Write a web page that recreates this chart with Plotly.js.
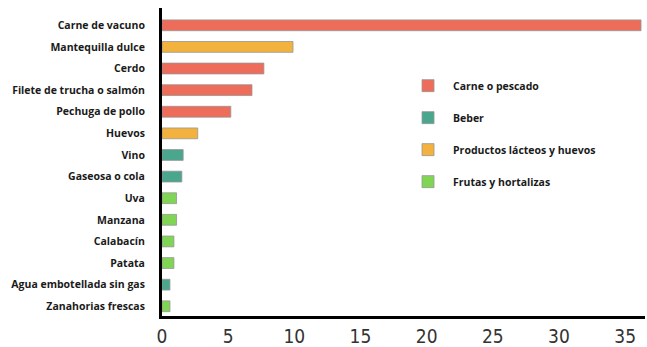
<!DOCTYPE html>
<html>
<head>
<meta charset="utf-8">
<script src="https://cdn.plot.ly/plotly-3.0.1.min.js"></script>
<style>
  html, body { margin: 0; padding: 0; background: #fff; }
  #chart { width: 647px; height: 347px; }
</style>
</head>
<body>
<div id="chart"></div>
<script>
// Foods, top to bottom
const foods = [
  "Carne de vacuno",
  "Mantequilla dulce",
  "Cerdo",
  "Filete de trucha o salmón",
  "Pechuga de pollo",
  "Huevos",
  "Vino",
  "Gaseosa o cola",
  "Uva",
  "Manzana",
  "Calabacín",
  "Patata",
  "Agua embotellada sin gas",
  "Zanahorias frescas"
];

const values = [36.2, 9.9, 7.7, 6.8, 5.2, 2.7, 1.6, 1.5, 1.1, 1.1, 0.9, 0.9, 0.6, 0.6];

// Food group of each item (index into groupNames)
const foodGroup = [0, 2, 0, 0, 0, 2, 1, 1, 3, 3, 3, 3, 1, 3];

const groupNames = [
  "Carne o pescado",
  "Beber",
  "Productos lácteos y huevos",
  "Frutas y hortalizas"
];
const groupColors = ["#EE6C5A", "#4AA68D", "#F3B23E", "#80D654"];

const xTicks = [0, 5, 10, 15, 20, 25, 30, 35];

const labelFont = { family: "Open Sans, Noto Sans, sans-serif", size: 10.5, color: "#1a1a1a", weight: 700 };

const traces = groupNames.map((name, g) => {
  const ys = [], xs = [];
  foods.forEach((f, i) => {
    if (foodGroup[i] === g) { ys.push(f); xs.push(values[i]); }
  });
  return {
    type: "bar",
    orientation: "h",
    name: name,
    legendgroup: name,
    x: xs,
    y: ys,
    width: 0.5,
    marker: { color: groupColors[g], line: { color: "rgba(150,150,150,0.8)", width: 1 } },
    hoverinfo: "x+y"
  };
});

const layout = {
  width: 647,
  height: 347,
  margin: { l: 162, r: 2, t: 8, b: 31 },
  paper_bgcolor: "#fff",
  plot_bgcolor: "#fff",
  barmode: "overlay",
  showlegend: true,
  legend: {
    x: 0.499, y: 0.795, xanchor: "left", yanchor: "top",
    font: labelFont,
    tracegroupgap: 13,
    traceorder: "grouped",
    itemwidth: 40,
    bgcolor: "rgba(0,0,0,0)"
  },
  xaxis: {
    range: [0, 36.5],
    tickvals: xTicks,
    ticktext: xTicks.map(String),
    showgrid: false,
    zeroline: false,
    showline: true,
    linecolor: "#000",
    linewidth: 3,
    ticks: "",
    ticklabelstandoff: 1,
    tickfont: { family: "DejaVu Sans Condensed, Liberation Sans Narrow, Roboto, sans-serif", size: 19, color: "#333" }
  },
  yaxis: {
    type: "category",
    categoryorder: "array",
    categoryarray: foods,
    range: [13.45, -0.8],
    showgrid: false,
    zeroline: false,
    showline: true,
    linecolor: "#000",
    linewidth: 3,
    ticks: "",
    ticklabelstandoff: 12,
    tickfont: labelFont
  }
};

Plotly.newPlot("chart", traces, layout, { displayModeBar: false, staticPlot: true });
</script>
</body>
</html>
